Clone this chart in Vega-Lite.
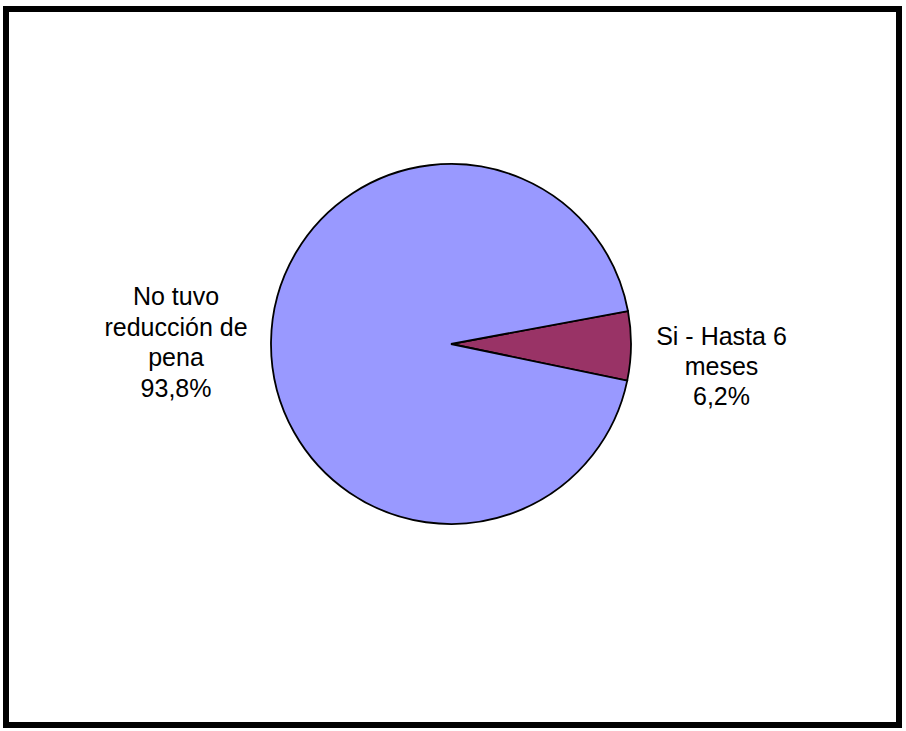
{
  "$schema": "https://vega.github.io/schema/vega-lite/v6.json",
  "width": 906,
  "height": 731,
  "autosize": {"type": "fit", "contains": "padding"},
  "padding": {"left": 3, "top": 6, "right": 4, "bottom": 3},
  "background": "white",
  "data": {
    "values": [
      {"categoria": "Si - Hasta 6 meses", "pct": 6.2, "orden": 1, "etiqueta": "Si - Hasta 6\nmeses\n6,2%"},
      {"categoria": "No tuvo reducción de pena", "pct": 93.8, "orden": 2, "etiqueta": "No tuvo\nreducción de\npena\n93,8%"}
    ]
  },
  "layer": [
    {
      "data": {"values": [{"marco": 1}]},
      "mark": {"type": "rect", "fill": null, "stroke": "black", "strokeWidth": 6},
      "encoding": {}
    },
    {
      "mark": {"type": "arc", "outerRadius": 180, "stroke": "black", "strokeWidth": 1.8, "xOffset": -1.5, "yOffset": -23},
      "encoding": {
        "theta": {"field": "pct", "type": "quantitative", "stack": true, "scale": {"range": [1.3865, 7.6697]}},
        "order": {"field": "orden", "type": "quantitative"},
        "color": {"field": "categoria", "type": "nominal", "legend": null,
          "scale": {"domain": ["Si - Hasta 6 meses", "No tuvo reducción de pena"], "range": ["#993366", "#9999FF"]}}
      }
    },
    {
      "mark": {"type": "text", "radius": 275, "font": "Liberation Sans", "fontSize": 25, "lineHeight": 30.5, "lineBreak": "\n", "align": "center", "baseline": "middle", "xOffset": -1.5, "yOffset": -67, "color": "black"},
      "encoding": {
        "theta": {"field": "pct", "type": "quantitative", "stack": true},
        "order": {"field": "orden", "type": "quantitative"},
        "text": {"condition": {"test": "datum.orden == 2", "field": "etiqueta"}, "value": ""}
      }
    },
    {
      "mark": {"type": "text", "radius": 270, "font": "Liberation Sans", "fontSize": 25, "lineHeight": 30, "lineBreak": "\n", "align": "center", "baseline": "middle", "xOffset": -1, "yOffset": -33, "color": "black"},
      "encoding": {
        "theta": {"field": "pct", "type": "quantitative", "stack": true},
        "order": {"field": "orden", "type": "quantitative"},
        "text": {"condition": {"test": "datum.orden == 1", "field": "etiqueta"}, "value": ""}
      }
    }
  ]
}
